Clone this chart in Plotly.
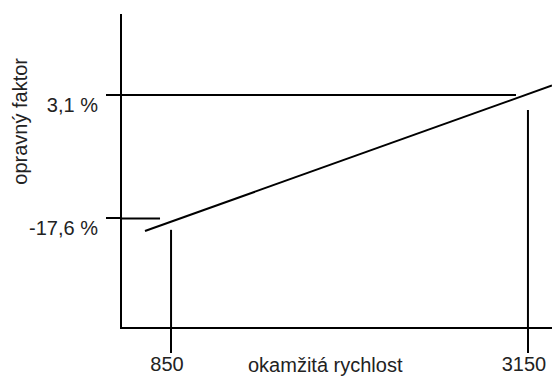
import plotly.graph_objects as go

# --- data -------------------------------------------------------------
speed_ticks = [850, 3150]                 # okamžitá rychlost
speed_labels = ["850", "3150"]
factor_ticks = [-17.6, 3.1]               # opravný faktor (%)
factor_labels = ["-17,6 %", "3,1 %"]

# schematic characteristic line (speed -> correction factor)
line_speed = [682, 3305]
line_factor = [-19.7, 4.7]

# drop lines from the characteristic down to the speed axis
drop_top = [-19.5, 0.6]
# guide lines from the factor axis into the plot
guide_end = [779, 3073]

x_range = [534, 3305]
y_range = [-35.8, 16.7]

FONT = "Liberation Sans, Arial, Helvetica, sans-serif"
TXT = "#222222"
INK = "#000000"

fig = go.Figure()

fig.add_trace(go.Scatter(x=line_speed, y=line_factor, mode="lines",
                         line=dict(color=INK, width=2), hoverinfo="skip",
                         showlegend=False))

for xs, yt in zip(speed_ticks, drop_top):
    fig.add_trace(go.Scatter(x=[xs, xs], y=[y_range[0], yt], mode="lines",
                             line=dict(color=INK, width=2), hoverinfo="skip",
                             showlegend=False))

for yf, xe in zip(factor_ticks, guide_end):
    fig.add_trace(go.Scatter(x=[x_range[0], xe], y=[yf, yf], mode="lines",
                             line=dict(color=INK, width=2), hoverinfo="skip",
                             showlegend=False))

fig.update_layout(
    template="none",
    width=552, height=376,
    margin=dict(l=122, r=0, t=14, b=49, pad=0, autoexpand=False),
    paper_bgcolor="white", plot_bgcolor="white",
    font=dict(family=FONT, size=20, color=TXT),
    showlegend=False,
    xaxis=dict(range=x_range, showgrid=False, zeroline=False, automargin=False,
               showline=True, linecolor=INK, linewidth=2,
               tickmode="array", tickvals=speed_ticks, ticktext=speed_labels,
               ticks="outside", ticklen=24, tickwidth=2, tickcolor=INK,
               tickfont=dict(family=FONT, size=20, color=TXT),
               ticklabelshift=-4, ticklabelstandoff=-6),
    yaxis=dict(range=y_range, showgrid=False, zeroline=False, automargin=False,
               showline=True, linecolor=INK, linewidth=2,
               tickmode="array", tickvals=factor_ticks, ticktext=factor_labels,
               ticks="outside", ticklen=14, tickwidth=2, tickcolor=INK,
               tickfont=dict(family=FONT, size=20, color=TXT),
               ticklabelshift=10, ticklabelstandoff=4),
    annotations=[
        dict(text="okamžitá rychlost", xref="paper", yref="paper",
             x=0.474, y=-0.122, xanchor="center", yanchor="middle",
             showarrow=False, font=dict(family=FONT, size=20, color=TXT)),
        dict(text="opravný faktor", xref="paper", yref="paper",
             x=-0.238, y=0.658, xanchor="center", yanchor="middle",
             textangle=-90, showarrow=False,
             font=dict(family=FONT, size=20, color=TXT)),
    ],
)

fig.write_html("out.html",
               config={"displayModeBar": False},
               post_script="document.body.style.margin='0';"
                           "document.body.style.overflow='hidden';")
